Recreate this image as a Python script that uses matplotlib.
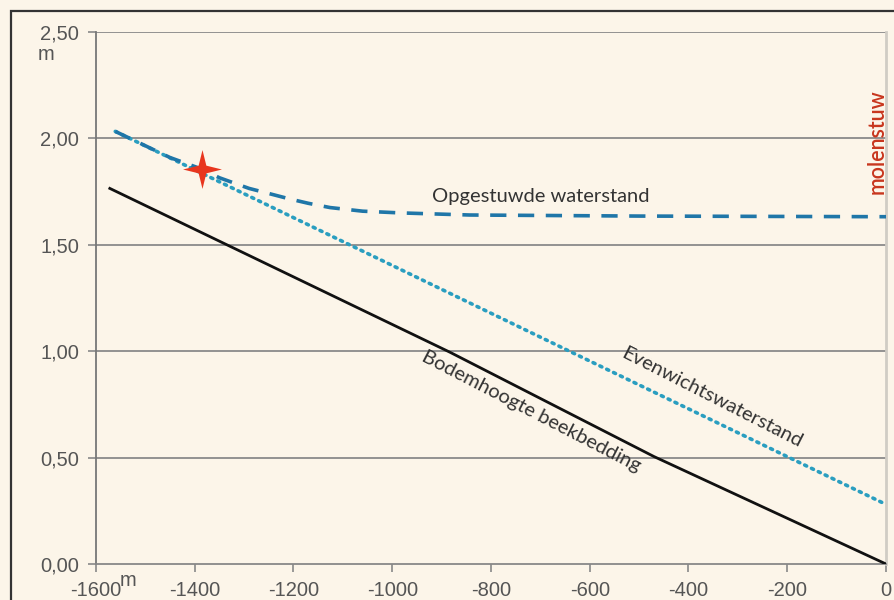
import matplotlib
matplotlib.use("Agg")
import numpy as np
import matplotlib.pyplot as plt
from matplotlib.patches import Rectangle
from matplotlib.path import Path
from matplotlib.ticker import FuncFormatter

# data
bed_x = [-1572, -883, -470, 0]
bed_y = [1.765, 0.995, 0.505, 0.0]

eq_x = [-1561, 0]
eq_y = [2.033, 0.28]

dam_x = [-1561, -1450, -1385, -1350, -1290, -1240, -1207, -1170, -1126, -1060, -985, -900, -843, -500, 0]
dam_y = [2.033, 1.91, 1.855, 1.815, 1.765, 1.735, 1.715, 1.695, 1.675, 1.658, 1.65, 1.644, 1.64, 1.635, 1.632]

star_x = [-1385]
star_y = [1.855]

xticks = [-1600, -1400, -1200, -1000, -800, -600, -400, -200, 0]
yticks = [0.0, 0.5, 1.0, 1.5, 2.0, 2.5]

bg = "#FCF5E9"
W, H = 895, 600
fig = plt.figure(figsize=(W / 100, H / 100), dpi=100, facecolor=bg)
ax = fig.add_axes([96 / W, 1 - 564 / H, (886 - 96) / W, (564 - 32) / H])
ax.set_facecolor(bg)

ax.set_xlim(-1600, 0)
ax.set_ylim(0, 2.5)
ax.set_xticks(xticks)
ax.set_yticks(yticks)
ax.yaxis.set_major_formatter(FuncFormatter(lambda v, p: f"{v:.2f}".replace(".", ",")))
ax.xaxis.set_major_formatter(FuncFormatter(lambda v, p: f"{int(v)}"))

for t in yticks[1:]:
    ax.axhline(t, color="#8a8a8a", lw=1.3, zorder=1)

ax.spines["top"].set_visible(False)
ax.spines["left"].set_color("#777777")
ax.spines["bottom"].set_color("#888888")
ax.spines["right"].set_color("#d0ccc4")
ax.spines["left"].set_linewidth(1.3)
ax.spines["bottom"].set_linewidth(1.3)
ax.spines["right"].set_linewidth(2)
ax.tick_params(axis="both", direction="out", length=6, width=1.2, color="#888888",
               labelsize=14.5, labelcolor="#555555")
ax.tick_params(axis="y", pad=6)
ax.tick_params(axis="x", pad=6)
for lab in ax.get_xticklabels() + ax.get_yticklabels():
    lab.set_fontfamily("Liberation Sans")

# four-pointed sparkle marker
ang = np.arange(8) * np.pi / 4
rad = np.where(np.arange(8) % 2 == 0, 1.0, 0.28)
verts = np.column_stack([rad * np.cos(ang), rad * np.sin(ang)])
verts = np.vstack([verts, verts[:1]])
star = Path(verts, [Path.MOVETO] + [Path.LINETO] * 7 + [Path.CLOSEPOLY])

ax.plot(bed_x, bed_y, color="#111111", lw=2, zorder=3)
ax.plot(eq_x, eq_y, color="#2a9ec0", lw=2.6, linestyle=(0, (0.6, 1.5)),
        dash_capstyle="round", zorder=3)
ax.plot(dam_x, dam_y, color="#1f76a8", lw=2.6, linestyle=(0, (4.5, 3.2)), zorder=4)
ax.plot(star_x, star_y, marker=star, markersize=28, color="#e8361e",
        markeredgewidth=0, linestyle="none", zorder=5)

tf = "Lato"
fs = 14.5
ax.text(-700, 1.728, "Opgestuwde waterstand", fontsize=fs, color="#333333",
        fontfamily=tf, ha="center", va="center")
ax.text(-352, 0.78, "Evenwichtswaterstand", fontsize=fs, color="#333333",
        fontfamily=tf, ha="center", va="center", rotation=-27, rotation_mode="anchor")
ax.text(-718, 0.715, "Bodemhoogte beekbedding", fontsize=fs, color="#333333",
        fontfamily=tf, ha="center", va="center", rotation=-27.3, rotation_mode="anchor")
fig.text(877 / W, 1 - 142 / H, "molenstuw", fontsize=15.5, color="#c8361e",
         fontfamily="Lato", fontweight="semibold", ha="center", va="center", rotation=90)

fig.text(46 / W, 1 - 54 / H, "m", fontsize=14.5, color="#555555",
         fontfamily="Liberation Sans", ha="center", va="center")
fig.text(128 / W, 1 - 580 / H, "m", fontsize=14.5, color="#555555",
         fontfamily="Liberation Sans", ha="center", va="center")

fig.patches.append(Rectangle((11 / W, -0.1), 1.2, 1 - 11 / H + 0.1,
                             transform=fig.transFigure, fill=False,
                             edgecolor="#333333", lw=1.6))

fig.savefig("out.png", dpi=100, facecolor=bg)
